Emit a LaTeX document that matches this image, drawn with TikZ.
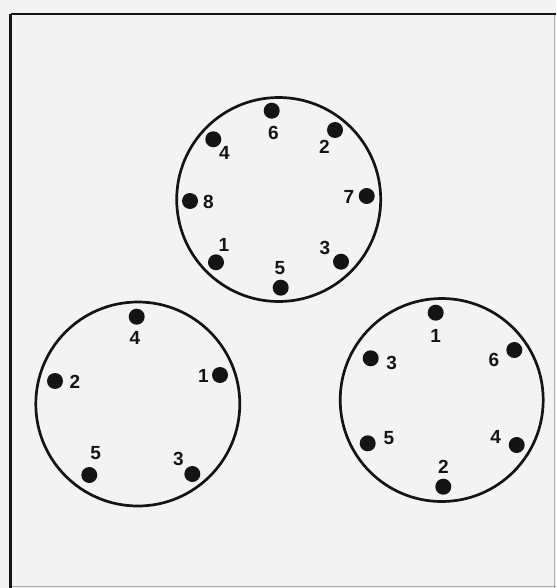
\documentclass[tikz,border=0pt]{standalone}
\usepackage{fontspec}
\setmainfont{Liberation Sans}
\definecolor{bgc}{RGB}{243,243,243}
\definecolor{inkc}{RGB}{20,20,20}
\definecolor{edgec}{RGB}{170,170,170}
\begin{document}
\begin{tikzpicture}[x=1pt,y=-1pt,
  ring/.style={circle,draw=inkc,line width=2.7pt,inner sep=0pt},
  dotnode/.style={circle,fill=inkc,inner sep=0pt,minimum size=16pt},
  num/.style={inner sep=0pt,font=\fontsize{19}{19}\selectfont\bfseries,text=inkc}]
\fill[bgc] (0,0) rectangle (556,588);
\useasboundingbox (0,0) rectangle (556,588);
% frame
\coordinate (fTL) at (10.5,14);
\coordinate (fBL) at (10.5,588);
\coordinate (fTR) at (556,14);
\coordinate (fRB) at (554,588);
\coordinate (fRT) at (554,14);
\coordinate (fBR) at (556,586.5);
\coordinate (fBLb) at (10.5,586.5);
\draw[edgec,line width=0.8pt] (fRT) -- (fRB);
\draw[edgec,line width=0.8pt] (fBLb) -- (fBR);
\draw[inkc,line width=3pt] (fBL) -- (fTL);
\draw[inkc,line width=2.2pt] (fTL) -- (fTR);
% top ring
\node[ring,minimum size=204pt] (ringA) at (278.7,199.5) {};
\node[dotnode] (a6) at (271.7,110.7) {};
\node[num] (la6) at (273.3,133.3) {6};
\node[dotnode] (a2) at (335,130) {};
\node[num] (la2) at (324.3,147.3) {2};
\node[dotnode] (a4) at (213.3,139.3) {};
\node[num] (la4) at (224.3,153.3) {4};
\node[dotnode] (a8) at (190,201) {};
\node[num] (la8) at (208.3,201.7) {8};
\node[dotnode] (a7) at (366.7,196) {};
\node[num] (la7) at (349,196.7) {7};
\node[dotnode] (a1) at (216,262.3) {};
\node[num] (la1) at (224,245) {1};
\node[dotnode] (a3) at (341,261.7) {};
\node[num] (la3) at (325,248.3) {3};
\node[dotnode] (a5) at (280.7,287.7) {};
\node[num] (la5) at (280,268.3) {5};
% left ring
\node[ring,minimum size=204pt] (ringB) at (137.8,404) {};
\node[dotnode] (b4) at (136.7,316.7) {};
\node[num] (lb4) at (135,338.3) {4};
\node[dotnode] (b2) at (55,381) {};
\node[num] (lb2) at (75,381.7) {2};
\node[dotnode] (b1) at (220,375) {};
\node[num] (lb1) at (203.3,376) {1};
\node[dotnode] (b5) at (89.3,475) {};
\node[num] (lb5) at (95.7,453.3) {5};
\node[dotnode] (b3) at (192.3,474) {};
\node[num] (lb3) at (178.3,459) {3};
% right ring
\node[ring,minimum size=203pt] (ringC) at (441.7,400) {};
\node[dotnode] (c1) at (435.7,312.7) {};
\node[num] (lc1) at (435.7,336) {1};
\node[dotnode] (c6) at (514.3,350) {};
\node[num] (lc6) at (494,360) {6};
\node[dotnode] (c3) at (370.7,358.3) {};
\node[num] (lc3) at (391.7,362.7) {3};
\node[dotnode] (c5) at (367.7,443.3) {};
\node[num] (lc5) at (389,438.3) {5};
\node[dotnode] (c4) at (516.7,445) {};
\node[num] (lc4) at (495.7,436.7) {4};
\node[dotnode] (c2) at (443.3,486.7) {};
\node[num] (lc2) at (443.3,466.7) {2};
\end{tikzpicture}
\end{document}
